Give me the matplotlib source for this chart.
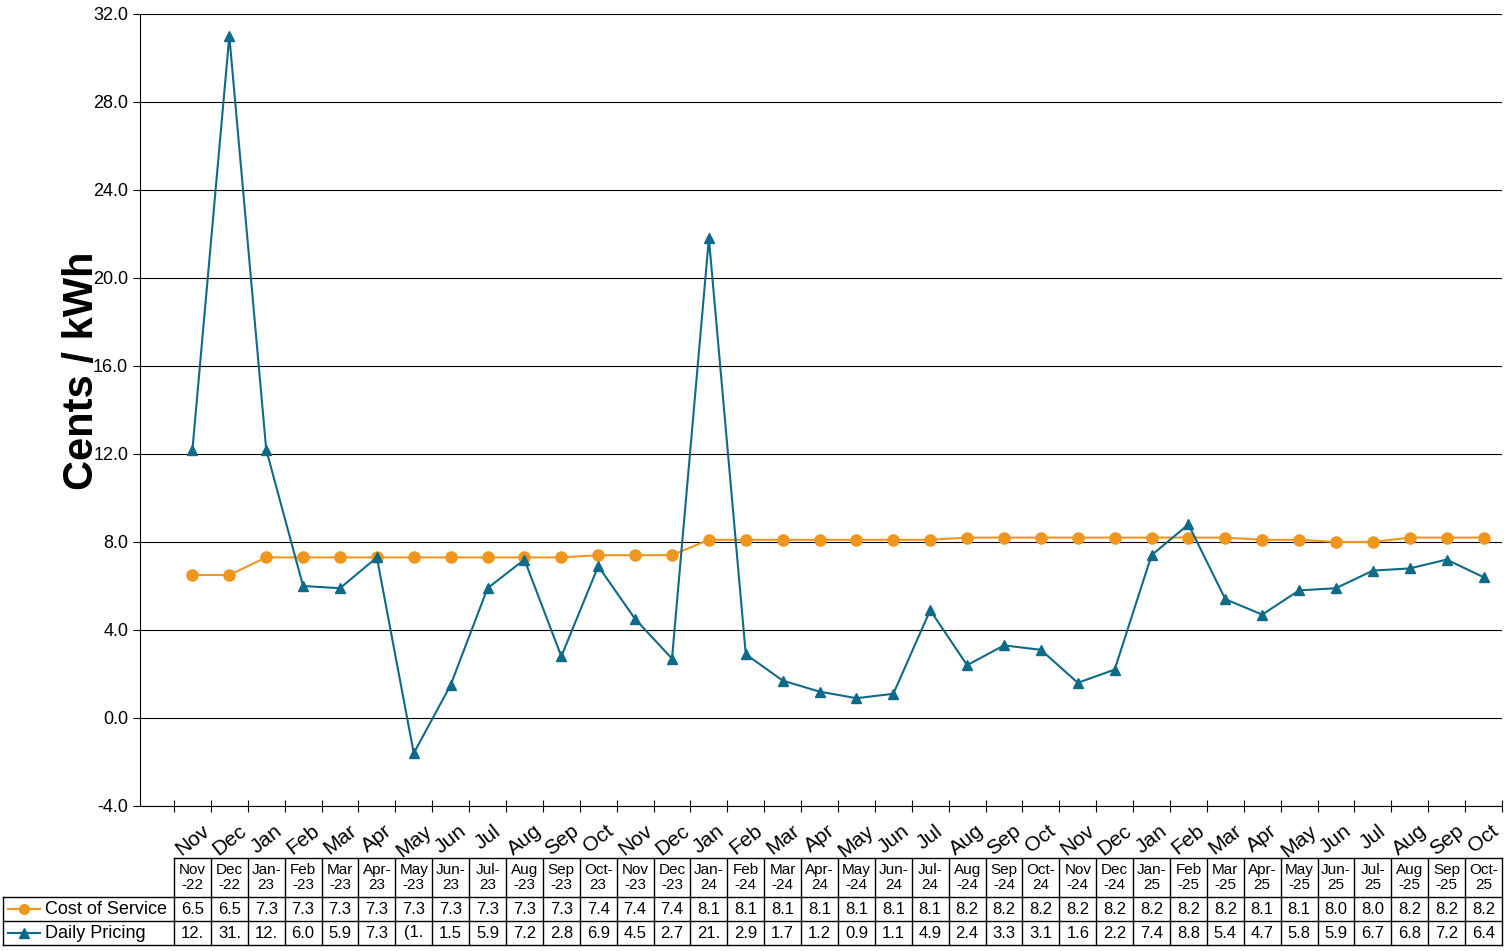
import matplotlib.pyplot as plt
import numpy as np

plt.rcParams['font.family'] = ['Liberation Sans', 'DejaVu Sans']

months = ['Nov', 'Dec', 'Jan', 'Feb', 'Mar', 'Apr', 'May', 'Jun', 'Jul', 'Aug', 'Sep', 'Oct'] * 3
col_labels = ['Nov\n-22', 'Dec\n-22', 'Jan-\n23', 'Feb\n-23', 'Mar\n-23', 'Apr-\n23', 'May\n-23', 'Jun-\n23',
              'Jul-\n23', 'Aug\n-23', 'Sep\n-23', 'Oct-\n23', 'Nov\n-23', 'Dec\n-23', 'Jan-\n24', 'Feb\n-24',
              'Mar\n-24', 'Apr-\n24', 'May\n-24', 'Jun-\n24', 'Jul-\n24', 'Aug\n-24', 'Sep\n-24', 'Oct-\n24',
              'Nov\n-24', 'Dec\n-24', 'Jan-\n25', 'Feb\n-25', 'Mar\n-25', 'Apr-\n25', 'May\n-25', 'Jun-\n25',
              'Jul-\n25', 'Aug\n-25', 'Sep\n-25', 'Oct-\n25']
cost = [6.5, 6.5, 7.3, 7.3, 7.3, 7.3, 7.3, 7.3, 7.3, 7.3, 7.3, 7.4, 7.4, 7.4, 8.1, 8.1, 8.1, 8.1,
        8.1, 8.1, 8.1, 8.2, 8.2, 8.2, 8.2, 8.2, 8.2, 8.2, 8.2, 8.1, 8.1, 8.0, 8.0, 8.2, 8.2, 8.2]
daily = [12.2, 31.0, 12.2, 6.0, 5.9, 7.3, -1.6, 1.5, 5.9, 7.2, 2.8, 6.9, 4.5, 2.7, 21.8, 2.9, 1.7, 1.2,
         0.9, 1.1, 4.9, 2.4, 3.3, 3.1, 1.6, 2.2, 7.4, 8.8, 5.4, 4.7, 5.8, 5.9, 6.7, 6.8, 7.2, 6.4]
cost_txt = ['%.1f' % v for v in cost]
daily_txt = ['12.', '31.', '12.', '6.0', '5.9', '7.3', '(1.', '1.5', '5.9', '7.2', '2.8', '6.9', '4.5',
             '2.7', '21.', '2.9', '1.7', '1.2', '0.9', '1.1', '4.9', '2.4', '3.3', '3.1', '1.6', '2.2',
             '7.4', '8.8', '5.4', '4.7', '5.8', '5.9', '6.7', '6.8', '7.2', '6.4']

ORANGE = '#F0961E'
TEAL = '#0E6A87'
W, H = 1505, 951

fig = plt.figure(figsize=(W / 100, H / 100), dpi=100)
# plot area in pixels: left 140, right 1502, top 14, bottom 806
ax = fig.add_axes([140 / W, 1 - 806 / H, (1502 - 140) / W, (806 - 14) / H])
x = np.arange(len(cost))
ax.plot(x, cost, '-o', color=ORANGE, markersize=8, lw=1.5, label='Cost of Service', zorder=3)
ax.plot(x, daily, '-^', color=TEAL, markersize=7, lw=1.5, label='Daily Pricing', zorder=3)
ax.set_xlim(-0.5 - (174 - 140) / 36.9, len(cost) - 0.5)
ax.set_ylim(-4, 32)
ax.set_yticks(np.arange(-4, 33, 4))
ax.set_yticklabels(['%.1f' % v for v in np.arange(-4, 33, 4)], fontsize=13)
ax.yaxis.grid(True, color='black', lw=0.8)
ax.set_axisbelow(True)
ax.set_xticks(np.arange(-0.5, len(cost), 1))
ax.set_xticklabels([])
ax.tick_params(axis='x', direction='inout', length=8)
ax.tick_params(axis='y', length=5)
for i, m in enumerate(months):
    ax.text(i, -4.7, m, rotation=38, ha='center', va='top', fontsize=15)
for s in ['top', 'right']:
    ax.spines[s].set_visible(False)
ax.set_ylabel('Cents / kWh', fontsize=30, fontweight='bold', labelpad=22)
ax.yaxis.set_label_coords(-0.028, 0.55)

# data table drawn in pixel coordinates
tb = fig.add_axes([0, 0, 1, 1])
tb.set_xlim(0, W)
tb.set_ylim(H, 0)
tb.axis('off')
left, cw = 174, (1502 - 174) / len(cost)
rows = [858, 897, 921, 945]
for i in range(len(cost) + 1):
    tb.plot([left + i * cw] * 2, [rows[0], rows[3]], color='black', lw=1)
for y in rows:
    tb.plot([left if y == rows[0] else 3, 1502], [y, y], color='black', lw=1)
tb.plot([3, 3], [rows[1], rows[3]], color='black', lw=1)
for i in range(len(cost)):
    cx = left + (i + 0.5) * cw
    tb.text(cx, (rows[0] + rows[1]) / 2, col_labels[i], ha='center', va='center', fontsize=11, linespacing=1.1)
    tb.text(cx, (rows[1] + rows[2]) / 2, cost_txt[i], ha='center', va='center', fontsize=12)
    tb.text(cx, (rows[2] + rows[3]) / 2, daily_txt[i], ha='center', va='center', fontsize=12)
for (y0, y1), name, col, mk in [((rows[1], rows[2]), 'Cost of Service', ORANGE, 'o'),
                                ((rows[2], rows[3]), 'Daily Pricing', TEAL, '^')]:
    yc = (y0 + y1) / 2
    tb.plot([8, 40], [yc, yc], color=col, lw=1.5)
    tb.plot([24], [yc], marker=mk, color=col, markersize=7)
    tb.text(45, yc, name, ha='left', va='center', fontsize=13)

fig.savefig('out.png', dpi=100)
